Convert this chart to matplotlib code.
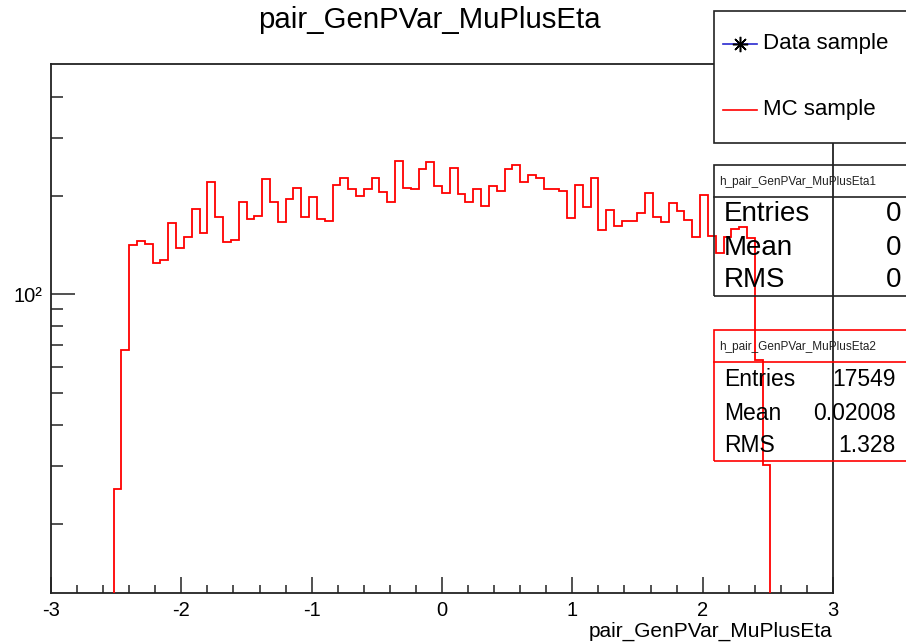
import numpy as np
import matplotlib
matplotlib.use("Agg")
import matplotlib.pyplot as plt
from matplotlib.patches import Rectangle
from matplotlib.lines import Line2D
from matplotlib.ticker import FixedLocator, NullFormatter, FixedFormatter

plt.rcParams['font.family'] = ['Liberation Sans', 'DejaVu Sans']
plt.rcParams['axes.unicode_minus'] = False

# ---------------- data ----------------
title = "pair_GenPVar_MuPlusEta"
xlabel = "pair_GenPVar_MuPlusEta"
x_range = (-2.52, 2.52)          # histogram filled range (bin width 0.06)
counts = [
    25.5, 67.6, 141.3, 145.9, 142.9, 124.5, 127.2, 165.5, 138.6, 150.1,
    182.3, 154.3, 219.8, 172.3, 144.3, 146.6, 191.8, 170.3, 173.5, 225.4,
    191.8, 166.0, 195.5, 211.2, 171.9, 197.8, 170.3, 167.2, 215.7, 226.1,
    209.3, 199.3, 209.3, 226.1, 204.9, 191.4, 255.3, 211.2, 209.3, 240.8,
    254.1, 214.6, 203.9, 242.6, 202.0, 191.4, 209.3, 185.7, 214.2, 207.3,
    240.8, 248.2, 219.8, 231.4, 226.1, 209.7, 209.7, 207.3, 170.8, 215.7,
    184.5, 226.1, 157.3, 180.6, 162.1, 167.5, 167.5, 177.6, 203.5, 171.9,
    165.8, 190.5, 179.7, 168.7, 149.4, 201.1, 151.1, 133.6, 149.4, 158.1,
    160.3, 148.4, 63.1, 30.2,
]
xticks = [-3, -2, -1, 0, 1, 2, 3]
xtick_labels = ["-3", "-2", "-1", "0", "1", "2", "3"]
ymajor = [100]
ymajor_labels = ["10\u00b2"]
yminor = [20, 30, 40, 50, 60, 70, 80, 90, 200, 300, 400]
legend_labels = ["Data sample", "MC sample"]
stats1_name = "h_pair_GenPVar_MuPlusEta1"
stats1_rows = [("Entries", "0"), ("Mean", "0"), ("RMS", "0")]
stats2_name = "h_pair_GenPVar_MuPlusEta2"
stats2_rows = [("Entries", "17549"), ("Mean", "0.02008"), ("RMS", "1.328")]

# ---------------- figure ----------------
W, H = 906, 644
fig = plt.figure(figsize=(W / 100, H / 100), dpi=100, facecolor='white')

def fx(x):
    return x / W

def fy(y):
    return 1 - y / H

L, R, T, B = 51, 833, 64, 593
ax = fig.add_axes([fx(L), fy(B), fx(R) - fx(L), fy(T) - fy(B)])
ax.set_facecolor('white')

edges = np.linspace(x_range[0], x_range[1], len(counts) + 1)
ax.stairs(counts, edges, baseline=1.0, color='#ff0000', linewidth=1.3, zorder=3)

ax.set_yscale('log')
ax.set_xlim(-3, 3)
ax.set_ylim(12.3, 504)

ax.xaxis.set_major_locator(FixedLocator(xticks))
ax.xaxis.set_major_formatter(FixedFormatter(xtick_labels))
ax.xaxis.set_minor_locator(FixedLocator(np.arange(-3, 3.01, 0.2)))
ax.xaxis.set_minor_formatter(NullFormatter())
ax.yaxis.set_major_locator(FixedLocator(ymajor))
ax.yaxis.set_major_formatter(FixedFormatter(ymajor_labels))
ax.yaxis.set_minor_locator(FixedLocator(yminor))
ax.yaxis.set_minor_formatter(NullFormatter())

ax.tick_params(axis='x', which='major', direction='in', length=11.5, width=1.1,
               labelsize=14.5, pad=6, top=False, color='#222222')
ax.tick_params(axis='x', which='minor', direction='in', length=5.8, width=1.1,
               top=False, color='#222222')
ax.tick_params(axis='y', which='major', direction='in', length=17, width=1.1,
               labelsize=14.5, pad=6, right=False, color='#222222')
ax.tick_params(axis='y', which='minor', direction='in', length=8.6, width=1.1,
               right=False, color='#222222')
for s in ax.spines.values():
    s.set_linewidth(1.3)
    s.set_color('#222222')

# title and axis label
fig.text(fx(429), fy(20), title, ha='center', va='center', fontsize=21.2)
fig.text(fx(832), fy(631), xlabel, ha='right', va='center', fontsize=15)

# ---------------- legend box ----------------
fig.patches.append(Rectangle((fx(714), fy(143)), fx(915) - fx(714), fy(11) - fy(143),
                             transform=fig.transFigure, facecolor='white',
                             edgecolor='#222222', linewidth=1.2, zorder=5))
fig.lines.append(Line2D([fx(723), fx(757)], [fy(44), fy(44)], transform=fig.transFigure,
                        color='#2a2ad0', linewidth=1.2, zorder=6))
fig.lines.append(Line2D([fx(740)], [fy(44)], transform=fig.transFigure,
                        marker=(8, 2, 0), markersize=11, markeredgewidth=1.1,
                        color='black', linestyle='none', zorder=7))
fig.lines.append(Line2D([fx(723), fx(757)], [fy(110), fy(110)], transform=fig.transFigure,
                        color='#ff0000', linewidth=1.2, zorder=6))
fig.text(fx(763), fy(44), legend_labels[0], ha='left', va='center', fontsize=16, zorder=8)
fig.text(fx(763), fy(110), legend_labels[1], ha='left', va='center', fontsize=16, zorder=8)

# ---------------- stats boxes ----------------
def stats_box(top, bottom, sep, name, rows, color, row_y, size, val_x):
    fig.patches.append(Rectangle((fx(714), fy(bottom)), fx(915) - fx(714), fy(top) - fy(bottom),
                                 transform=fig.transFigure, facecolor='none',
                                 edgecolor=color, linewidth=1.2, zorder=5))
    fig.lines.append(Line2D([fx(714), fx(915)], [fy(sep), fy(sep)], transform=fig.transFigure,
                            color=color, linewidth=1.2, zorder=5))
    fig.text(fx(719), fy((top + sep) / 2 + 1), name, ha='left', va='center', fontsize=8.5,
             color='#222222', zorder=8)
    for (lab, val), yy in zip(rows, row_y):
        fig.text(fx(724), fy(yy), lab, ha='left', va='center', fontsize=size, zorder=8)
        fig.text(fx(val_x), fy(yy), val, ha='right', va='center', fontsize=size, zorder=8)

stats_box(165, 296, 197, stats1_name, stats1_rows, '#222222', [214, 248, 280], 20, 901)
stats_box(330, 461, 362, stats2_name, stats2_rows, '#ff0000', [380, 414, 446], 16.5, 896)

fig.savefig("out.png", dpi=100, facecolor='white')
